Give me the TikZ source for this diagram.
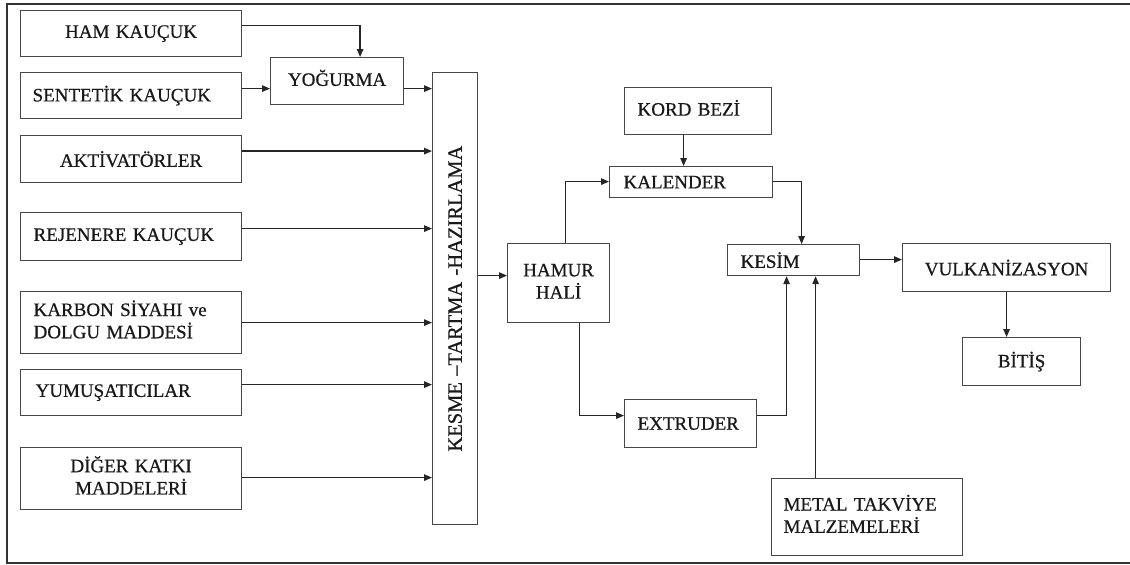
\documentclass[tikz,border=0pt]{standalone}
\usepackage{fontspec}
\setmainfont{Liberation Serif}
\newfontfamily\labelfont{Liberation Serif}[FakeBold=0.6]
\usetikzlibrary{arrows.meta}

% text block inside a box: raise, column alignment, lines
\newcommand{\boxtext}[3]{\raisebox{#1}{\begin{tabular}{@{}#2@{}}#3\end{tabular}}}

\begin{document}
\begin{tikzpicture}[
  x=1pt, y=-1pt,
  box/.style={draw=black!72, line width=1.2pt, rectangle, anchor=north west,
    inner ysep=0pt, font=\labelfont\fontsize{19}{22}\selectfont, text=black!90},
  lbox/.style={box, align=left, inner xsep=#1},
  cbox/.style={box, align=center, inner xsep=4pt},
  arr/.style={draw=black!85, line width=1.3pt, line join=miter,
    -{Triangle[length=8pt,width=6.5pt]}}
]
\clip (0,0) rectangle (1130,565);
\fill[white] (0,0) rectangle (1130,565);
% outer frame
\draw[black!80, line width=1.5pt] (7,4) rectangle (1140,563);

% raw materials
\node[cbox, minimum width=221, minimum height=46, text width=213] (ham) at (20,10) {HAM KAUÇUK};
\node[lbox=12pt, minimum width=221, minimum height=46, text width=197] (sent) at (20,72) {SENTETİK KAUÇUK};
\node[cbox, minimum width=133, minimum height=47, text width=125] (yog) at (270,57) {\boxtext{4pt}{c}{YOĞURMA}};
\node[cbox, minimum width=221, minimum height=47, text width=213] (akt) at (20,135) {AKTİVATÖRLER};
\node[lbox=13pt, minimum width=221, minimum height=48, text width=195] (rej) at (20,212) {REJENERE KAUÇUK};
\node[lbox=13pt, minimum width=221, minimum height=62, text width=195] (karb) at (20,291) {\boxtext{0pt}{l}{KARBON SİYAHI ve\\DOLGU MADDESİ}};
\node[lbox=15pt, minimum width=221, minimum height=46, text width=191] (yum) at (20,369) {YUMUŞATICILAR};
\node[cbox, minimum width=221, minimum height=62, text width=213] (dig) at (20,447) {\boxtext{0pt}{c}{DİĞER KATKI\\MADDELERİ}};

% preparation column
\node[cbox, minimum width=45, minimum height=452, text width=37] (kesme) at (432,72)
  {\rotatebox{90}{\fontsize{20.5}{22}\selectfont KESME –TARTMA -HAZIRLAMA}};

% processing
\node[cbox, minimum width=102, minimum height=79, text width=94] (hamur) at (507,243) {\boxtext{8pt}{c}{HAMUR\\HALİ}};
\node[lbox=13pt, minimum width=147, minimum height=47, text width=121] (kord) at (624,87) {\boxtext{2pt}{l}{KORD BEZİ}};
\node[lbox=14pt, minimum width=163, minimum height=31, text width=135] (kal) at (609,166) {KALENDER};
\node[lbox=13pt, minimum width=132, minimum height=48, text width=106] (extr) at (624,399) {EXTRUDER};
\node[lbox=13pt, minimum width=132, minimum height=31, text width=106] (kesim) at (727,244) {KESİM};
\node[lbox=12pt, minimum width=191, minimum height=77, text width=167] (metal) at (771,478) {\boxtext{8pt}{l}{METAL TAKVİYE\\MALZEMELERİ}};
\node[cbox, minimum width=208, minimum height=48, text width=200] (vulk) at (902,243) {VULKANİZASYON};
\node[cbox, minimum width=118, minimum height=48, text width=110] (bitis) at (962,337) {BİTİŞ};

% connectors into YOĞURMA
\draw[arr] ([yshift=8pt]ham.east) -| ([xshift=23pt]yog.north);
\coordinate (s1) at ([yshift=7pt]sent.east);
\draw[arr] (s1) -- (s1 -| yog.west);
\coordinate (y1) at ([yshift=-7.5pt]yog.east);
\draw[arr] (y1) -- (y1 -| kesme.west);

% connectors into the preparation column
\coordinate (a1) at ([yshift=8pt]akt.east);
\draw[arr] (a1) -- (a1 -| kesme.west);
\coordinate (r1) at ([yshift=8pt]rej.east);
\draw[arr] (r1) -- (r1 -| kesme.west);
\draw[arr] (karb.east) -- (karb.east -| kesme.west);
\coordinate (u1) at ([yshift=8pt]yum.east);
\draw[arr] (u1) -- (u1 -| kesme.west);
\coordinate (d1) at ([yshift=1pt]dig.east);
\draw[arr] (d1) -- (d1 -| kesme.west);

% dough onward
\coordinate (h1) at ([yshift=7.5pt]hamur.west);
\draw[arr] (kesme.east |- h1) -- (h1);
\draw[arr] ([xshift=7pt]hamur.north) |- ([yshift=0.5pt]kal.west);
\coordinate (k1) at ([xshift=-14.5pt]kord.south);
\draw[arr] (k1) -- (k1 |- kal.north);
\draw[arr] ([yshift=0.5pt]kal.east) -| ([xshift=8pt]kesim.north);
\draw[arr] ([xshift=21pt]hamur.south) |- ([yshift=8pt]extr.west);
\draw[arr] ([yshift=8pt]extr.east) -| ([xshift=-7pt]kesim.south);
\coordinate (m1) at ([xshift=-51.5pt]metal.north);
\draw[arr] (m1) -- (m1 |- kesim.south);
\coordinate (e1) at ([yshift=0.5pt]kesim.east);
\draw[arr] (e1) -- (e1 -| vulk.west);
\draw[arr] (vulk.south) -- (vulk.south |- bitis.north);
\end{tikzpicture}
\end{document}
